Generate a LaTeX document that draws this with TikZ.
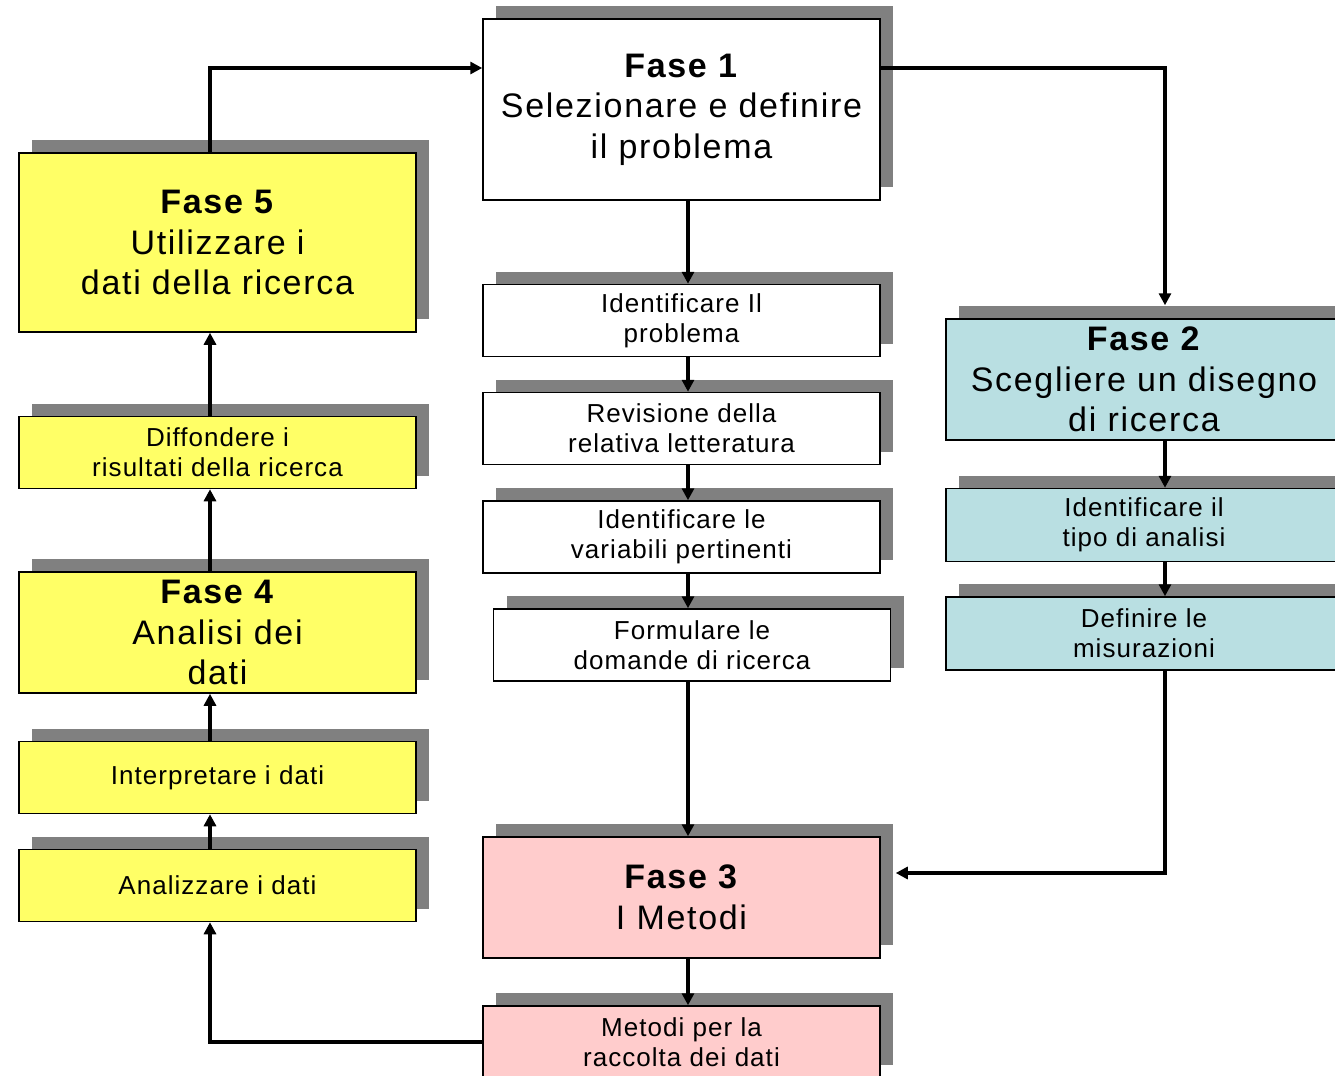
\documentclass[tikz,border=0pt]{standalone}
\usepackage{fontspec}
\setmainfont{Liberation Sans}
\newfontfamily\bigfam{Liberation Sans}[LetterSpace=5]
\newfontfamily\smfam{Liberation Sans}[LetterSpace=4]
\usetikzlibrary{arrows.meta,shadows}
\definecolor{yel}{HTML}{FFFF66}
\definecolor{blu}{HTML}{B9DFE2}
\definecolor{pnk}{HTML}{FFCCCC}
\definecolor{shd}{HTML}{808080}
\newcommand\bigfnt{\bigfam\fontsize{17pt}{20.3pt}\selectfont}
\newcommand\smfnt{\smfam\fontsize{13pt}{15pt}\selectfont}
\begin{document}
\begin{tikzpicture}[x=0.5pt,y=-0.5pt,
 box/.style={draw=black,line width=0.75pt,inner sep=0pt,align=center,
   general shadow={fill=shd,shadow xshift=6.5pt,shadow yshift=6.5pt}},
 bigbox/.style={box,font=\bigfnt,minimum width=198.5pt},
 smallbox/.style={box,font=\smfnt,minimum width=198.5pt,minimum height=36pt},
 arr/.style={line width=2pt,-{Triangle[width=6pt,length=6pt]}}]
\useasboundingbox (0,0) rectangle (1335,1076);
\fill[white] (0,0) rectangle (1335,1076);
% middle column
\node[bigbox,fill=white,minimum height=90.5pt] (f1) at (681.5,109.5) {\textbf{Fase 1}\\Selezionare e definire\\il problema};
\node[smallbox,fill=white] (p1) at (681.5,320.5) {Identificare Il\\problema};
\node[smallbox,fill=white] (p2) at (681.5,428.5) {Revisione della\\relativa letteratura};
\node[smallbox,fill=white] (p3) at (681.5,537) {Identificare le\\variabili pertinenti};
\node[smallbox,fill=white] (p4) at (692,645) {Formulare le\\domande di ricerca};
\node[bigbox,fill=pnk,minimum height=60.5pt] (f3) at (681.5,897.5) {\textbf{Fase 3}\\I Metodi};
\node[smallbox,fill=pnk] (m1) at (681.5,1042) {Metodi per la\\raccolta dei dati};
% right column
\node[bigbox,fill=blu,minimum height=60.5pt,minimum width=198pt] (f2) at (1144,379.5) {\textbf{Fase 2}\\Scegliere un disegno\\di ricerca};
\node[smallbox,fill=blu,minimum width=198pt,minimum height=36.5pt] (q1) at (1144,525) {Identificare il\\tipo di analisi};
\node[smallbox,fill=blu,minimum width=198pt,minimum height=36.5pt] (q2) at (1144,633.5) {Definire le\\misurazioni};
% left column
\node[bigbox,fill=yel,minimum height=89.5pt] (f5) at (217.5,242.5) {\textbf{Fase 5}\\Utilizzare i\\dati della ricerca};
\node[smallbox,fill=yel] (d1) at (217.5,452.5) {Diffondere i\\risultati della ricerca};
\node[bigbox,fill=yel,minimum height=60.5pt] (f4) at (217.5,632.5) {\textbf{Fase 4}\\Analisi dei\\dati};
\node[smallbox,fill=yel] (i1) at (217.5,777.5) {Interpretare i dati};
\node[smallbox,fill=yel] (a1) at (217.5,885.5) {Analizzare i dati};
% guide coordinates
\coordinate (cm) at (688,0);
\coordinate (cr) at (1165,0);
\coordinate (cl) at (210,0);
\coordinate (ytop) at (0,68);
\coordinate (yr) at (0,873);
\coordinate (yb) at (0,1042);
% connectors
\draw[arr] (f1.south -| cm) -- (p1.north -| cm);
\draw[arr] (p1.south -| cm) -- (p2.north -| cm);
\draw[arr] (p2.south -| cm) -- (p3.north -| cm);
\draw[arr] (p3.south -| cm) -- (p4.north -| cm);
\draw[arr] (p4.south -| cm) -- (f3.north -| cm);
\draw[arr] (f3.south -| cm) -- (m1.north -| cm);
\draw[arr,shorten >=6.5pt] (f1.east |- ytop) -| (f2.north -| cr);
\draw[arr] (f2.south -| cr) -- (q1.north -| cr);
\draw[arr] (q1.south -| cr) -- (q2.north -| cr);
\draw[arr,shorten >=7.5pt] (q2.south -| cr) |- (f3.east |- yr);
\draw[arr] (m1.west |- yb) -| (a1.south -| cl);
\draw[arr] (a1.north -| cl) -- (i1.south -| cl);
\draw[arr] (i1.north -| cl) -- (f4.south -| cl);
\draw[arr] (f4.north -| cl) -- (d1.south -| cl);
\draw[arr] (d1.north -| cl) -- (f5.south -| cl);
\draw[arr] (f5.north -| cl) |- (f1.west |- ytop);
\end{tikzpicture}
\end{document}
